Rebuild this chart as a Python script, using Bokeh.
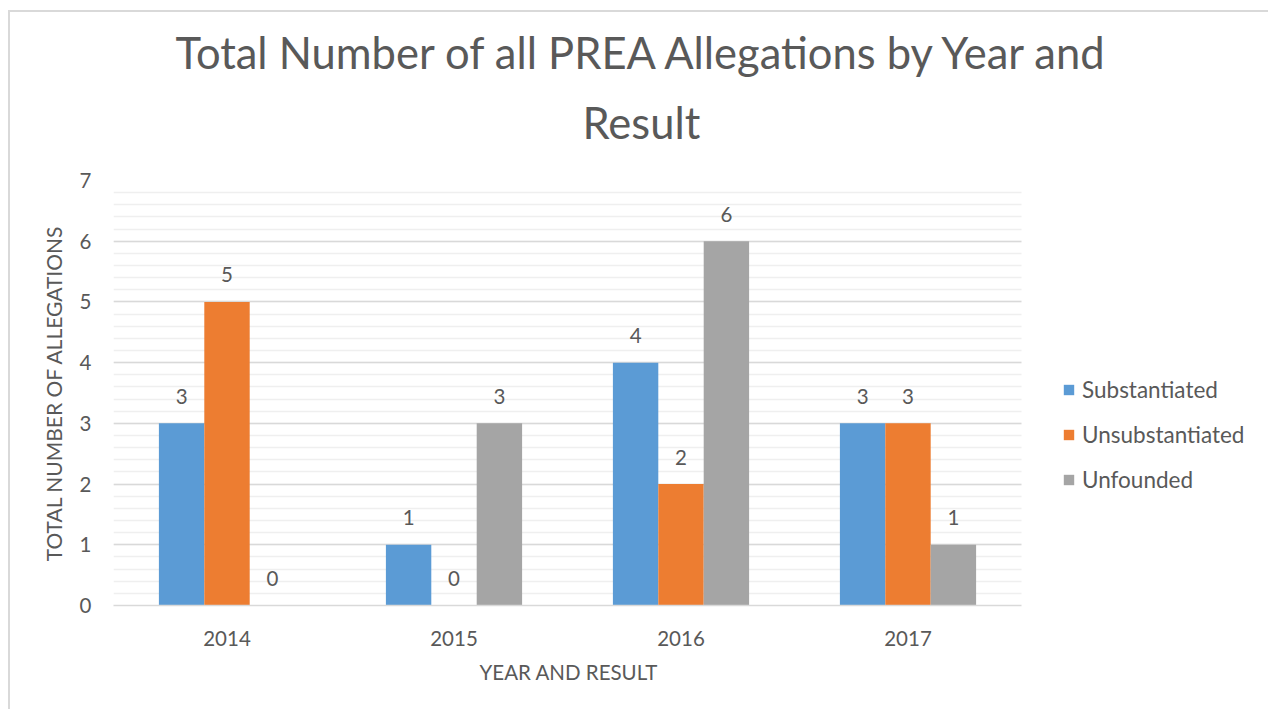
import numpy as np
from bokeh.plotting import figure
from bokeh.models import (ColumnDataSource, Range1d, SingleIntervalTicker, FixedTicker,
                          Legend, LegendItem, Title, BoxAnnotation)
from bokeh.core.properties import value
from bokeh.embed import file_html
from bokeh.resources import INLINE

years = ["2014", "2015", "2016", "2017"]
substantiated = [3, 1, 4, 3]
unsubstantiated = [5, 0, 2, 3]
unfounded = [0, 3, 6, 1]
series_names = ["Substantiated", "Unsubstantiated", "Unfounded"]
colors = ["#5B9BD5", "#ED7D31", "#A5A5A5"]

FONT = "Lato"
TXT = "#595959"

centers = np.arange(len(years)) + 0.5  # category slots on a numeric axis
offsets = [-0.2, 0.0, 0.2]
series = [substantiated, unsubstantiated, unfounded]

n = len(years)
# frame spans 1157 px; the 4 categories occupy the left 908 px (legend sits in the rest)
x_end = n * 1157 / 908

p = figure(width=1260, height=699, x_range=Range1d(0, x_end), y_range=Range1d(0, 7),
           output_backend="svg", toolbar_location=None,
           min_border_left=103, min_border_right=0, min_border_top=168, min_border_bottom=106)
p.margin = (10, 0, 0, 8)
p.styles = {"border-left": "2px solid #d9d9d9", "border-top": "2px solid #d9d9d9"}
p.outline_line_color = None
p.background_fill_color = "white"

t2 = Title(text="Result", align="left", text_font=FONT, text_font_size="43.5px",
           text_color=TXT, text_font_style="normal", offset=469, standoff=66,
           text_line_height=1.15)
t1 = Title(text="Total Number of all PREA Allegations by Year and", align="left", text_font=FONT,
           text_font_size="43.5px", text_color=TXT, text_font_style="normal", offset=62, standoff=-34)
p.add_layout(t2, "above")
p.add_layout(t1, "above")

renderers = []
for name, vals, off, col in zip(series_names, series, offsets, colors):
    src = ColumnDataSource(dict(x=centers + off, top=vals, lab=[str(v) for v in vals]))
    r = p.vbar(x="x", top="top", width=0.2, source=src, fill_color=col, line_color=None)
    renderers.append(r)
    p.text(x="x", y="top", text="lab", source=src,
           text_align="center", text_baseline="middle", y_offset=-27,
           text_font=value(FONT), text_font_size="20.5px", text_color=TXT)

# blank the grid to the right of the plot area (where the legend sits)
p.add_layout(BoxAnnotation(left=n, fill_color="white", fill_alpha=1.0, line_color=None, level="glyph"))

# axes
p.yaxis.ticker = SingleIntervalTicker(interval=1, num_minor_ticks=5)
p.yaxis.axis_line_color = None
p.yaxis.major_tick_line_color = None
p.yaxis.minor_tick_line_color = None
p.yaxis.major_label_text_font = FONT
p.yaxis.major_label_text_font_size = "20.5px"
p.yaxis.major_label_text_color = TXT
p.yaxis.major_label_standoff = 16
p.yaxis.axis_label = "TOTAL NUMBER OF ALLEGATIONS"
p.yaxis.axis_label_text_font = FONT
p.yaxis.axis_label_text_font_size = "21px"
p.yaxis.axis_label_text_font_style = "normal"
p.yaxis.axis_label_text_color = TXT
p.yaxis.axis_label_standoff = 11

p.xaxis.ticker = FixedTicker(ticks=list(centers))
p.xaxis.major_label_overrides = {float(c): y for c, y in zip(centers, years)}
p.xaxis.bounds = (0, n)
p.xaxis.axis_line_color = "#d9d9d9"
p.xaxis.axis_line_width = 1.5
p.xaxis.major_tick_line_color = None
p.xaxis.minor_tick_line_color = None
p.xaxis.major_label_text_font = FONT
p.xaxis.major_label_text_font_size = "20.5px"
p.xaxis.major_label_text_color = TXT
p.xaxis.major_label_standoff = 19

xt = Title(text="YEAR AND RESULT", align="left", text_font=FONT, text_font_size="20.5px",
           text_color=TXT, text_font_style="normal", offset=366, standoff=18)
p.add_layout(xt, "below")

p.xgrid.grid_line_color = None
p.ygrid.grid_line_color = "#d9d9d9"
p.ygrid.grid_line_width = 1.5
p.ygrid.minor_grid_line_color = "#efefef"
p.ygrid.minor_grid_line_width = 1.5

legend = Legend(items=[LegendItem(label=nm, renderers=[r]) for nm, r in zip(series_names, renderers)],
                location=(949, 112), orientation="vertical",
                glyph_width=13, glyph_height=13, label_standoff=7, spacing=18, label_height=27,
                padding=0, margin=0, border_line_color=None, background_fill_alpha=0,
                label_text_font=FONT, label_text_font_size="22.5px", label_text_color=TXT)
p.add_layout(legend, "center")

open("out.html", "w").write(file_html(p, INLINE))
